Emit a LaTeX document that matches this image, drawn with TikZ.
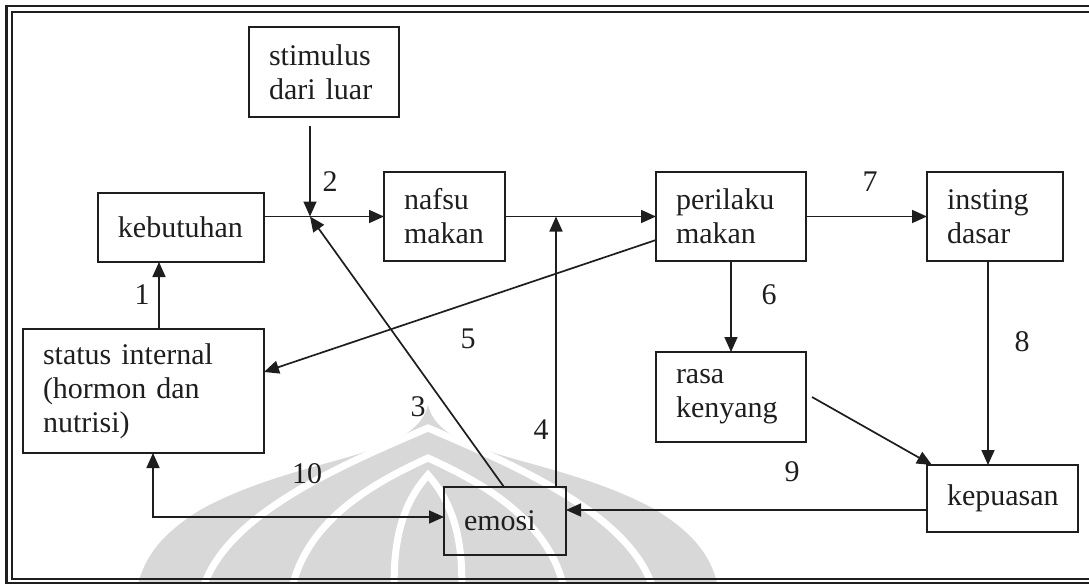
\documentclass[tikz,border=0pt]{standalone}
\usepackage{fontspec}
\setmainfont{Liberation Serif}
\usetikzlibrary{arrows.meta}
\definecolor{wm}{RGB}{216,216,216}
\definecolor{ink}{RGB}{30,30,30}
\tikzset{
  box/.style={draw=ink, line width=1pt, rectangle, outer sep=0pt, inner xsep=10pt, inner ysep=0pt, align=left, text=ink, font=\fontsize{15pt}{17pt}\selectfont},
  tip/.tip={Triangle[length=7.5pt,width=6.5pt]},
  conn/.style={draw=ink, line width=0.85pt, -tip},
  lbl/.style={text=ink, font=\fontsize{15pt}{17pt}\selectfont, inner sep=0pt},
  wmline/.style={draw=white, line width=3.5pt}
}
\begin{document}
\begin{tikzpicture}[x=0.5pt,y=-0.5pt]
\useasboundingbox (0,0) rectangle (1089,584);
\begin{scope}
\clip (0,0) rectangle (1089,584);
% watermark
\fill[wm] (428,405) .. controls (415,460) and (300,455) .. (200,510) .. controls (160,535) and (140,560) .. (135,600) -- (720,600) .. controls (716,560) and (696,535) .. (656,510) .. controls (556,455) and (441,460) .. (428,405) -- cycle;
\draw[wmline] (200,600) .. controls (215,520) and (330,470) .. (428,428) .. controls (526,470) and (641,520) .. (656,600);
\draw[wmline] (290,600) .. controls (300,520) and (380,480) .. (428,458) .. controls (476,480) and (556,520) .. (566,600);
\draw[wmline] (395,600) .. controls (390,530) and (410,495) .. (428,475) .. controls (446,495) and (466,530) .. (461,600);
% frame
\draw[ink, line width=1.2pt] (6.5,6) rectangle (1100,583);
\draw[ink, line width=1pt] (11.5,11.5) rectangle (1095,579);
\end{scope}
% boxes
\node[box, minimum width=75pt, minimum height=45pt, text width=55pt] (stim) at (324,72) {stimulus\\dari luar};
\node[box, minimum width=83pt, minimum height=34.5pt, text width=63pt] (keb) at (181,227.5) {kebutuhan};
\node[box, minimum width=60.5pt, minimum height=44.5pt, text width=40.5pt] (nafsu) at (444.5,216.5) {nafsu\\makan};
\node[box, minimum width=75pt, minimum height=44.5pt, text width=55pt] (peri) at (731,216.5) {perilaku\\makan};
\node[box, minimum width=68pt, minimum height=44.5pt, text width=48pt] (inst) at (995,216.5) {insting\\dasar};
\node[box, minimum width=75pt, minimum height=45pt, text width=55pt] (rasa) at (731,397) {rasa\\kenyang};
\node[box, minimum width=75.5pt, minimum height=33.5pt, text width=55.5pt] (kep) at (1002.5,498.5) {kepuasan};
\node[box, minimum width=61pt, minimum height=34pt, text width=41pt] (emosi) at (505,521) {emosi};
\node[box, minimum width=120.5pt, minimum height=62pt, text width=100.5pt] (stat) at (143.5,391) {status internal\\(hormon dan\\nutrisi)};
% coordinates
\coordinate (J) at (310,216.5);
\coordinate (S) at (310,126);
\coordinate (E3) at (504,487);
\coordinate (E4) at (556,487);
\coordinate (K) at (556,216.5);
% connectors
\draw[conn] (stat.north -| 159,0) -- (keb.south -| 159,0);
\draw[conn] (keb.east |- J) -- (nafsu.west |- J);
\draw[conn] (S) -- (J);
\draw[conn] (E3) -- (J);
\draw[conn] (E4) -- (K);
\draw[conn] (nafsu.east) -- (peri.west);
\draw[conn] (peri.east) -- (inst.west);
\draw[conn] (peri.west |- 0,240) -- (stat.east |- 0,372);
\draw[conn] (peri.south) -- (rasa.north);
\draw[conn] (inst.south -| 988,0) -- (kep.north -| 988,0);
\draw[conn] ([xshift=3pt]rasa.east) -- ([xshift=2.5pt]kep.north west);
\draw[conn] (kep.west |- 0,510) -- (emosi.east |- 0,510);
\draw[conn, tip-tip] (stat.south -| 153,0) |- (emosi.west |- 0,517);
% labels
\node[lbl] (l1) at (142,295) {1};
\node[lbl] (l2) at (330,182) {2};
\node[lbl] (l3) at (418,407) {3};
\node[lbl] (l4) at (541,430) {4};
\node[lbl] (l5) at (468,339) {5};
\node[lbl] (l6) at (769,295) {6};
\node[lbl] (l7) at (870,182) {7};
\node[lbl] (l8) at (1022,342) {8};
\node[lbl] (l9) at (792,472) {9};
\node[lbl] (l10) at (307,474) {10};
\end{tikzpicture}
\end{document}
